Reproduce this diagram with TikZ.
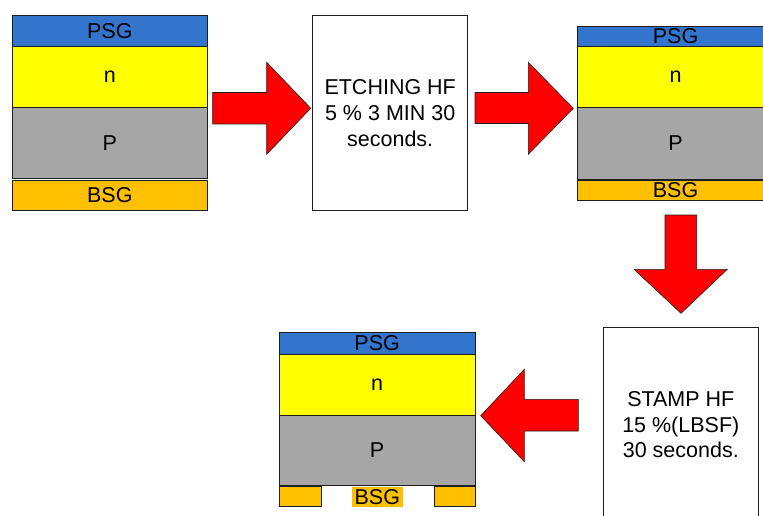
\documentclass[tikz,border=0pt]{standalone}
\usepackage{fontspec}
\setmainfont{Liberation Sans}
\definecolor{psg}{RGB}{51,117,204}
\definecolor{nlay}{RGB}{255,255,0}
\definecolor{play}{RGB}{166,166,166}
\definecolor{bsg}{RGB}{255,192,0}
\definecolor{edge}{RGB}{30,30,30}
\definecolor{arrowred}{RGB}{255,0,0}
\begin{document}
\begin{tikzpicture}[x=1pt,y=-1pt,
  layer/.style={draw=edge, line width=0.9pt, inner sep=0pt, outer sep=0pt, rectangle,
    font=\fontsize{21.5}{24}\selectfont},
  stepbox/.style={draw=edge, line width=0.9pt, fill=white, inner sep=0pt, rectangle,
    minimum width=155pt, minimum height=195pt, align=center,
    font=\fontsize{21.5}{25.7}\selectfont},
  blockarrow/.style={fill=arrowred, draw=edge, line width=0.6pt, line join=miter}]
\useasboundingbox (0,0) rectangle (763,516);
\clip (0,0) rectangle (763,516);
% ---------- stack 1 ----------
\node[layer, fill=psg,  minimum width=195.7pt, minimum height=31.2pt] (s1psg) at (109.85,31.1) {PSG};
\node[layer, fill=nlay, minimum width=195.7pt, minimum height=61pt]   (s1n)   at (109.85,77.2) {n};
\node[layer, fill=play, minimum width=195.7pt, minimum height=70.6pt] (s1p)   at (109.85,143) {P};
\node[layer, fill=bsg,  minimum width=195.7pt, minimum height=30.7pt] (s1bsg) at (109.85,195.35) {BSG};
% ---------- box 1 ----------
\node[stepbox] (box1) at (390.2,113.2) {ETCHING HF\\5 \% 3 MIN 30\\seconds.};
% ---------- stack 2 ----------
\node[layer, fill=psg,  minimum width=195.7pt, minimum height=20.7pt] (s2psg) at (675.55,36.35) {PSG};
\node[layer, fill=nlay, minimum width=195.7pt, minimum height=61pt]   (s2n)   at (675.55,77.2) {n};
\node[layer, fill=play, minimum width=195.7pt, minimum height=71.3pt] (s2p)   at (675.55,143.35) {P};
\node[layer, fill=bsg,  minimum width=195.7pt, minimum height=20pt]   (s2bsg) at (675.55,190) {BSG};
% ---------- box 2 ----------
\node[stepbox] (box2) at (680.8,424.8) {STAMP HF\\15 \%(LBSF)\\30 seconds.};
% ---------- stack 3 ----------
\node[layer, fill=psg,  minimum width=195.7pt, minimum height=21.3pt] (s3psg) at (377.15,343.35) {PSG};
\node[layer, fill=nlay, minimum width=195.7pt, minimum height=61pt]   (s3n)   at (377.15,384.5) {n};
\node[layer, fill=play, minimum width=195.7pt, minimum height=70.7pt] (s3p)   at (377.15,450.35) {P};
\node[layer, fill=bsg, minimum width=41.7pt, minimum height=20pt] (s3bsgl) at (300.15,496.7) {};
\node[layer, fill=bsg, minimum width=41pt, minimum height=20pt] (s3bsgr) at (454.5,496.7) {};
\node[layer, draw=none, fill=bsg, minimum width=50.7pt, minimum height=20pt] (s3bsg) at (377.35,496.7) {BSG};
% ---------- block arrows ----------
\draw[blockarrow] (212.7,92.5) -- (266.7,92.5) -- (266.7,62.3) -- (310.7,108.3)
  -- (266.7,154.3) -- (266.7,124) -- (212.7,124) -- cycle;
\draw[blockarrow] (475,92.5) -- (528.3,92.5) -- (528.3,62.3) -- (573.3,108.3)
  -- (528.3,154.3) -- (528.3,123.5) -- (475,123.5) -- cycle;
\draw[blockarrow] (665,215) -- (696.7,215) -- (696.7,269.3) -- (727.3,269.3)
  -- (681,313.3) -- (634,269.3) -- (665,269.3) -- cycle;
\draw[blockarrow] (578.3,399.3) -- (524.3,399.3) -- (524.3,369.3) -- (480.7,415.7)
  -- (524.3,461.7) -- (524.3,431) -- (578.3,431) -- cycle;
\end{tikzpicture}
\end{document}
